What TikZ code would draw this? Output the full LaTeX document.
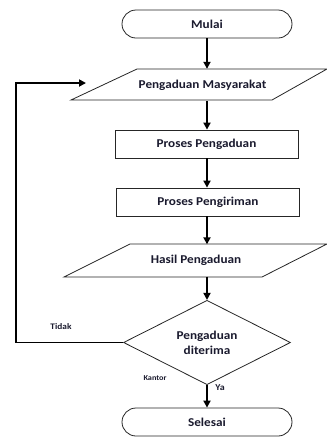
\documentclass[tikz,border=0pt]{standalone}
\usepackage{fontspec}
\setmainfont{Carlito}
\newfontfamily\lbl[FakeStretch=1.1]{Carlito}
\usetikzlibrary{shapes.geometric,arrows.meta,calc}
\definecolor{txt}{HTML}{1A1A2E}
\tikzset{
  every node/.style={font=\lbl\bfseries\fontsize{12}{13}\selectfont, text=txt},
  shp/.style={draw=black!85, line width=0.8pt, fill=white},
  term/.style={shp, rectangle, rounded corners=14pt, minimum width=170pt, minimum height=28pt, inner sep=0pt},
  procbox/.style={shp, rectangle, minimum width=183pt, minimum height=28pt, inner sep=0pt},
  iotext/.style={rectangle, minimum width=130pt, minimum height=32pt, inner sep=0pt},
  decbox/.style={shp, diamond, minimum width=167pt, minimum height=71pt, inner sep=0pt, align=center, font=\lbl\bfseries\fontsize{12}{15}\selectfont},
  arr/.style={line width=1.8pt, -{Triangle[length=7pt,width=7pt]}},
  small/.style={font=\lbl\bfseries\fontsize{#1}{#1}\selectfont}
}
\begin{document}
\begin{tikzpicture}[x=1pt,y=-1pt]
\useasboundingbox (0,0) rectangle (327,437);
% terminators and processes
\node[term] (mulai) at (207,24) {Mulai};
\node[procbox] (pp) at (206.5,144) {Proses Pengaduan};
\node[procbox] (pk) at (208,202) {Proses Pengiriman};
\node[decbox] (dec) at (207,342.5) {Pengaduan\\diterima};
\node[term] (sel) at (207,422) {Selesai};
% input/output parallelograms
\draw[shp] (137,69) -- (327,69) -- (272,100) -- (71,100) -- cycle;
\node[iotext] (p1) at (202.5,85) {Pengaduan Masyarakat};
\draw[shp] (130,244) -- (327,244) -- (262,277) -- (64,277) -- cycle;
\node[iotext] (p2) at (196,260.5) {Hasil Pengaduan};
% connectors
\draw[arr] (mulai.south) -- (mulai.south |- p1.north);
\draw[arr] (mulai.south |- p1.south) -- (pp.north -| mulai);
\draw[arr] (pp.south -| mulai) -- (pk.north -| mulai);
\draw[arr] (pk.south -| mulai) -- (mulai |- p2.north);
\draw[arr] (mulai |- p2.south) -- (dec.north);
\draw[arr] (dec.south) -- (sel.north);
\coordinate (lx) at (16,0);
\coordinate (back) at (86,83);
\draw[arr] (dec.west) -- (dec.west -| lx) |- (back);
% labels
\node[small=8.5] (tidak) at (61,327) {Tidak};
\node[small=7.5] (kantor) at (155,378) {Kantor};
\node[small=9] (ya) at (220,388) {Ya};
\end{tikzpicture}
\end{document}
